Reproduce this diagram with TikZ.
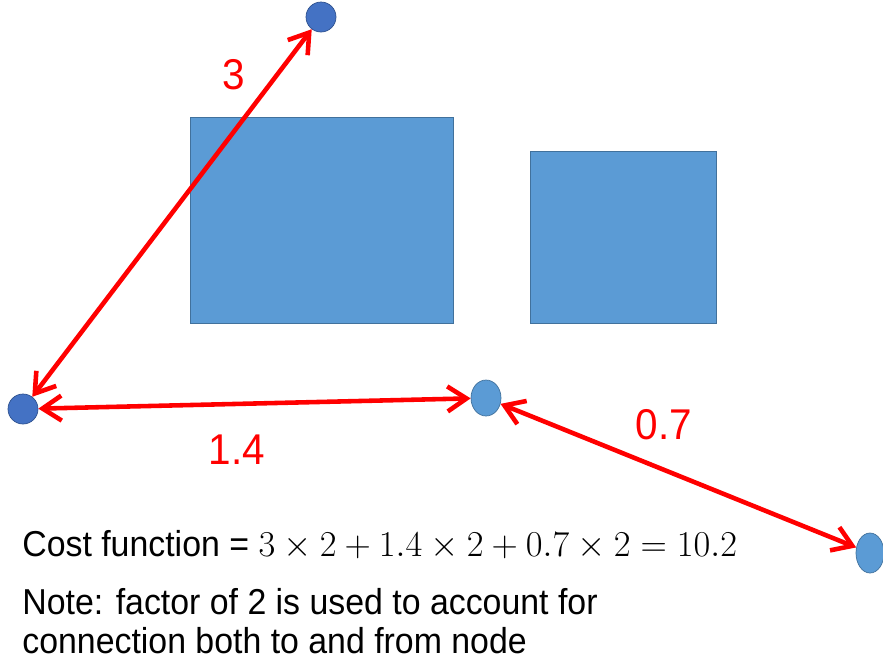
\documentclass[tikz,border=0pt]{standalone}
\usepackage{fontspec}
\setmainfont{Liberation Sans}
\newfontfamily\narrowfont[FakeStretch=0.94]{Liberation Sans}
\definecolor{darkdot}{HTML}{4472C4}
\definecolor{darkdotline}{HTML}{2F528F}
\definecolor{lightdot}{HTML}{5B9BD5}
\definecolor{lightdotline}{HTML}{41719C}
\usetikzlibrary{arrows.meta, positioning, shapes.geometric}
\tikzset{
	darknode/.style={
			shape=circle,
			draw=darkdotline,
			fill=darkdot,
			minimum size=6mm,
			inner sep=0pt
		},
	lightnode/.style={
			shape=ellipse,
			draw=lightdotline,
			fill=lightdot,
			minimum width=6mm,
			minimum height=7.2mm,
			inner sep=0pt
		},
	blockrect/.style={
			draw=lightdotline,
			fill=lightdot,
			thin
		},
	costarrow/.style={
			{Straight Barb[length=3.8mm,width=5mm,line width=2.6pt]}-{Straight Barb[length=3.8mm,width=5mm,line width=2.6pt]},
			draw=red,
			line width=2.6pt
		}
}
\tikzset{
	redtext/.style={font=\fontsize{24.5}{28}\narrowfont\color{red}}
}
\tikzset{
	bodytext/.style={font=\fontsize{20.5}{21.8}\narrowfont, anchor=west, inner sep=0pt, align=left}
}
\begin{document}
\begin{tikzpicture}[x=0.02cm,y=-0.02cm]
  \useasboundingbox (0,0) rectangle (883,664);

  % obstacles
  \draw[blockrect] (190,117) rectangle (453,323);
  \draw[blockrect] (530,151) rectangle (716,323);

  % nodes
  \node[darknode] (n1) at (321,17) {};
  \node[darknode] (n2) at (23,409) {};
  \node[lightnode] (n3) at (486,398) {};
  \node[lightnode, minimum width=5.6mm, minimum height=8mm] (n4) at (870,553) {};

  \draw[costarrow] (n1) -- (n2);
  \draw[costarrow] (n2) -- (n3);
  \draw[costarrow] (n3) -- (n4);

  \node[redtext] (c1) at (234,75) {3};
  \node[redtext] (c2) at (237,450) {1.4};
  \node[redtext] (c3) at (664,425) {0.7};

  \node[bodytext] (cost) at (22,545) {Cost function = $3\times2+1.4\times2+0.7\times2=10.2$};
  \node[bodytext] (note) at (22,621) {Note: factor of 2 is used to account for\\connection both to and from node};
\end{tikzpicture}
\end{document}
